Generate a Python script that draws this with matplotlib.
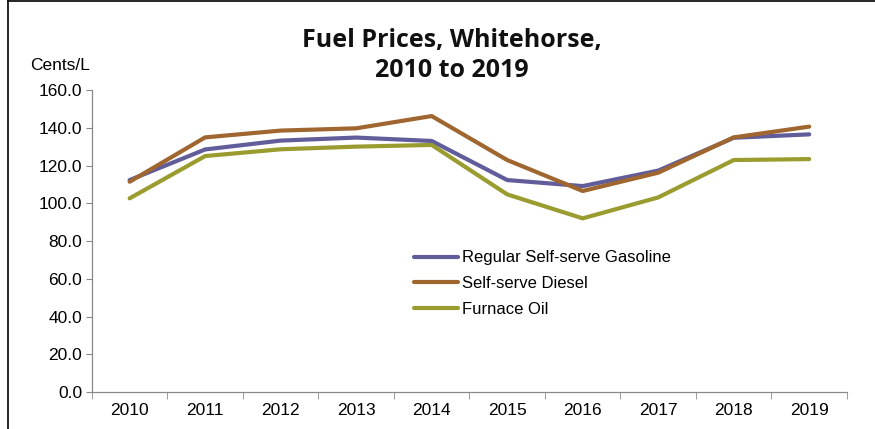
import matplotlib.pyplot as plt
import numpy as np
from matplotlib.lines import Line2D

years = ['2010', '2011', '2012', '2013', '2014', '2015', '2016', '2017', '2018', '2019']
gasoline = [112.3, 128.5, 133.2, 134.8, 133.0, 112.3, 109.1, 117.3, 134.7, 136.5]
diesel = [111.4, 134.9, 138.5, 139.7, 146.2, 122.9, 106.5, 116.2, 134.9, 140.6]
furnace_oil = [102.6, 125.0, 128.6, 130.0, 130.9, 104.7, 92.0, 103.1, 122.9, 123.4]

series = [
    ('Regular Self-serve Gasoline', gasoline, '#605d9a'),
    ('Self-serve Diesel', diesel, '#a0662f'),
    ('Furnace Oil', furnace_oil, '#9b9c30'),
]

plt.rcParams['font.family'] = ['Liberation Sans', 'DejaVu Sans']

fig = plt.figure(figsize=(8.75, 4.29), dpi=100)
ax = fig.add_axes([0.105, 0.0862, 0.863, 0.704])

x = np.arange(len(years))
for label, vals, color in series:
    ax.plot(x, vals, color=color, lw=3.0, label=label, solid_capstyle='round')

ax.set_xlim(-0.5, len(years) - 0.5)
ax.set_ylim(0, 160)
ax.set_yticks(np.arange(0, 161, 20))
ax.set_yticklabels(['%.1f' % v for v in np.arange(0, 161, 20)], fontsize=12.5)
ax.set_xticks(x)
ax.set_xticklabels(years, fontsize=12.5)
ax.set_xticks(np.arange(-0.5, len(years)), minor=True)
ax.tick_params(axis='x', which='major', length=0, pad=8)
ax.tick_params(axis='x', which='minor', length=5, color='#888888')
ax.tick_params(axis='y', length=4, color='#888888', pad=3)

for side in ['top', 'right']:
    ax.spines[side].set_visible(False)
for side in ['left', 'bottom']:
    ax.spines[side].set_color('#888888')
    ax.spines[side].set_linewidth(0.9)

ax.legend(loc='upper left', bbox_to_anchor=(0.466, 0.432), bbox_transform=fig.transFigure,
          frameon=False, fontsize=12, handlelength=2.6, handletextpad=0.25,
          labelspacing=0.65, borderaxespad=0)

fig.text(0.516, 0.905, 'Fuel Prices, Whitehorse,', ha='center', va='center',
         fontsize=18, fontweight='bold', family=['Open Sans', 'DejaVu Sans'], color='#111111')
fig.text(0.516, 0.835, '2010 to 2019', ha='center', va='center',
         fontsize=18, fontweight='bold', family=['Open Sans', 'DejaVu Sans'], color='#111111')
fig.text(0.034, 0.848, 'Cents/L', ha='left', va='center', fontsize=12.5)

# outer frame (top and left edges)
fig.add_artist(Line2D([0.009, 1.0], [0.997, 0.997], transform=fig.transFigure, color='black', lw=1.2))
fig.add_artist(Line2D([0.009, 0.009], [0.0, 0.997], transform=fig.transFigure, color='black', lw=1.2))

plt.savefig('out.png', dpi=100)
